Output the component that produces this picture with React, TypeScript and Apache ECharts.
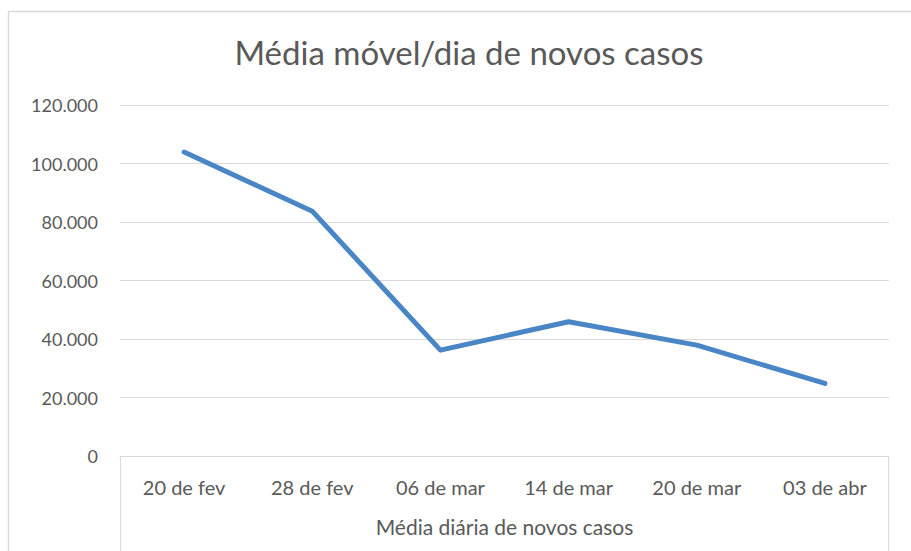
import React, { useEffect, useRef } from "react";
import * as echarts from "echarts";

const chartTitle = "Média móvel/dia de novos casos";
const categories = ["20 de fev", "28 de fev", "06 de mar", "14 de mar", "20 de mar", "03 de abr"];
const values = [103900, 83700, 36200, 45900, 37900, 24800];
const axisTitle = "Média diária de novos casos";
const yMin = 0;
const yMax = 120000;
const yStep = 20000;

const fmt = (v: number) => String(v).replace(/\B(?=(\d{3})+(?!\d))/g, ".");

export default function App() {
  const ref = useRef<HTMLDivElement>(null);
  useEffect(() => {
    document.body.style.margin = "0";
    const chart = echarts.init(ref.current!, null, { renderer: "svg" });
    const font = "Lato, 'Open Sans', sans-serif";
    const gray = "#d9d9d9";
    const text = "#595959";
    chart.setOption({
      animation: false,
      backgroundColor: "#ffffff",
      title: {
        text: chartTitle,
        left: 464,
        top: 30,
        textAlign: "center",
        textStyle: { fontFamily: font, fontSize: 33, fontWeight: "normal", color: text },
      },
      grid: { left: 120, right: 22, top: 105, bottom: 95, containLabel: false },
      xAxis: {
        type: "category",
        data: categories,
        boundaryGap: true,
        axisLine: { show: true, lineStyle: { color: gray, width: 1 } },
        axisTick: { show: false },
        axisLabel: { color: text, fontFamily: font, fontSize: 20, margin: 21 },
        name: axisTitle,
        nameLocation: "middle",
        nameGap: 60,
        nameTextStyle: { color: text, fontFamily: font, fontSize: 21 },
      },
      yAxis: {
        type: "value",
        min: yMin,
        max: yMax,
        interval: yStep,
        axisLine: { show: false },
        axisTick: { show: false },
        splitLine: { lineStyle: { color: gray, width: 1 } },
        axisLabel: { color: text, fontFamily: font, fontSize: 18, margin: 22, formatter: fmt },
      },
      graphic: [
        { type: "line", shape: { x1: 8.5, y1: 11.5, x2: 920, y2: 11.5 }, style: { stroke: gray, lineWidth: 1.5 } },
        { type: "line", shape: { x1: 8.5, y1: 11.5, x2: 8.5, y2: 560 }, style: { stroke: gray, lineWidth: 1.5 } },
        { type: "line", shape: { x1: 120.5, y1: 456, x2: 120.5, y2: 560 }, style: { stroke: gray, lineWidth: 1 } },
        { type: "line", shape: { x1: 888.5, y1: 456, x2: 888.5, y2: 560 }, style: { stroke: gray, lineWidth: 1 } },
      ],
      series: [
        {
          type: "line",
          data: values,
          symbol: "none",
          smooth: false,
          lineStyle: { color: "#4a86c6", width: 5, cap: "round", join: "round" },
        },
      ],
    });
    return () => chart.dispose();
  }, []);
  return <div ref={ref} style={{ width: 911, height: 551 }} />;
}
